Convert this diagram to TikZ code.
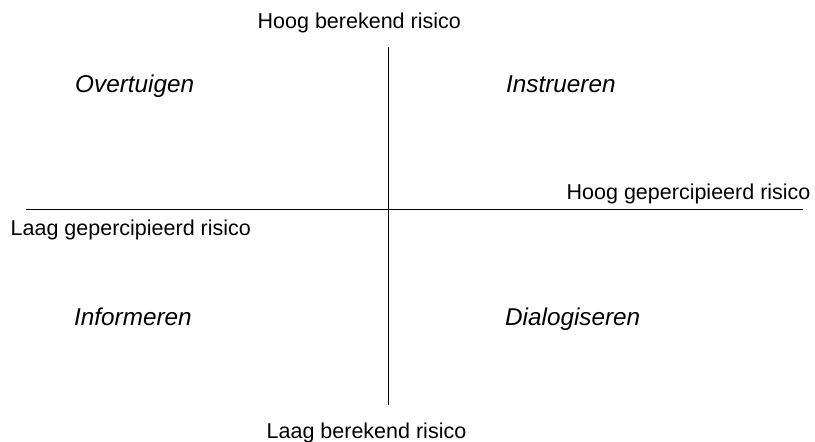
\documentclass[tikz,border=0pt]{standalone}
\usepackage{fontspec}
\setmainfont{Liberation Sans}
\tikzset{
  axislabel/.style={inner sep=0pt, anchor=base west, font=\fontsize{21.5}{24}\selectfont},
  quadrant/.style={inner sep=0pt, anchor=base west, font=\fontsize{24.3}{28}\selectfont\itshape},
}
\begin{document}
\begin{tikzpicture}[x=1pt,y=-1pt]
        \useasboundingbox (0,0) rectangle (815,442);

        % Axes
        \coordinate (top) at (388,47);
        \coordinate (bottom) at (388,405);
        \coordinate (left) at (26,209);
        \coordinate (right) at (803,209);
        \draw[line width=1pt] (top) -- (bottom);
        \draw[line width=1pt] (left) -- (right);

        % Axis labels
        \node[axislabel] (hoogber) at (257.5,28) {Hoog berekend risico};
        \node[axislabel] (laagber) at (266.5,438.5) {Laag berekend risico};
        \node[axislabel] (hooggep) at (566.5,199) {Hoog gepercipieerd risico};
        \node[axislabel] (laaggep) at (10.5,235) {Laag gepercipieerd risico};

        % Quadrants
        \node[quadrant] (overtuigen) at (75,92) {Overtuigen};
        \node[quadrant] (instrueren) at (506,92) {Instrueren};
        \node[quadrant] (informeren) at (74,325) {Informeren};
        \node[quadrant] (dialogiseren) at (505,325) {Dialogiseren};
    \end{tikzpicture}
\end{document}
